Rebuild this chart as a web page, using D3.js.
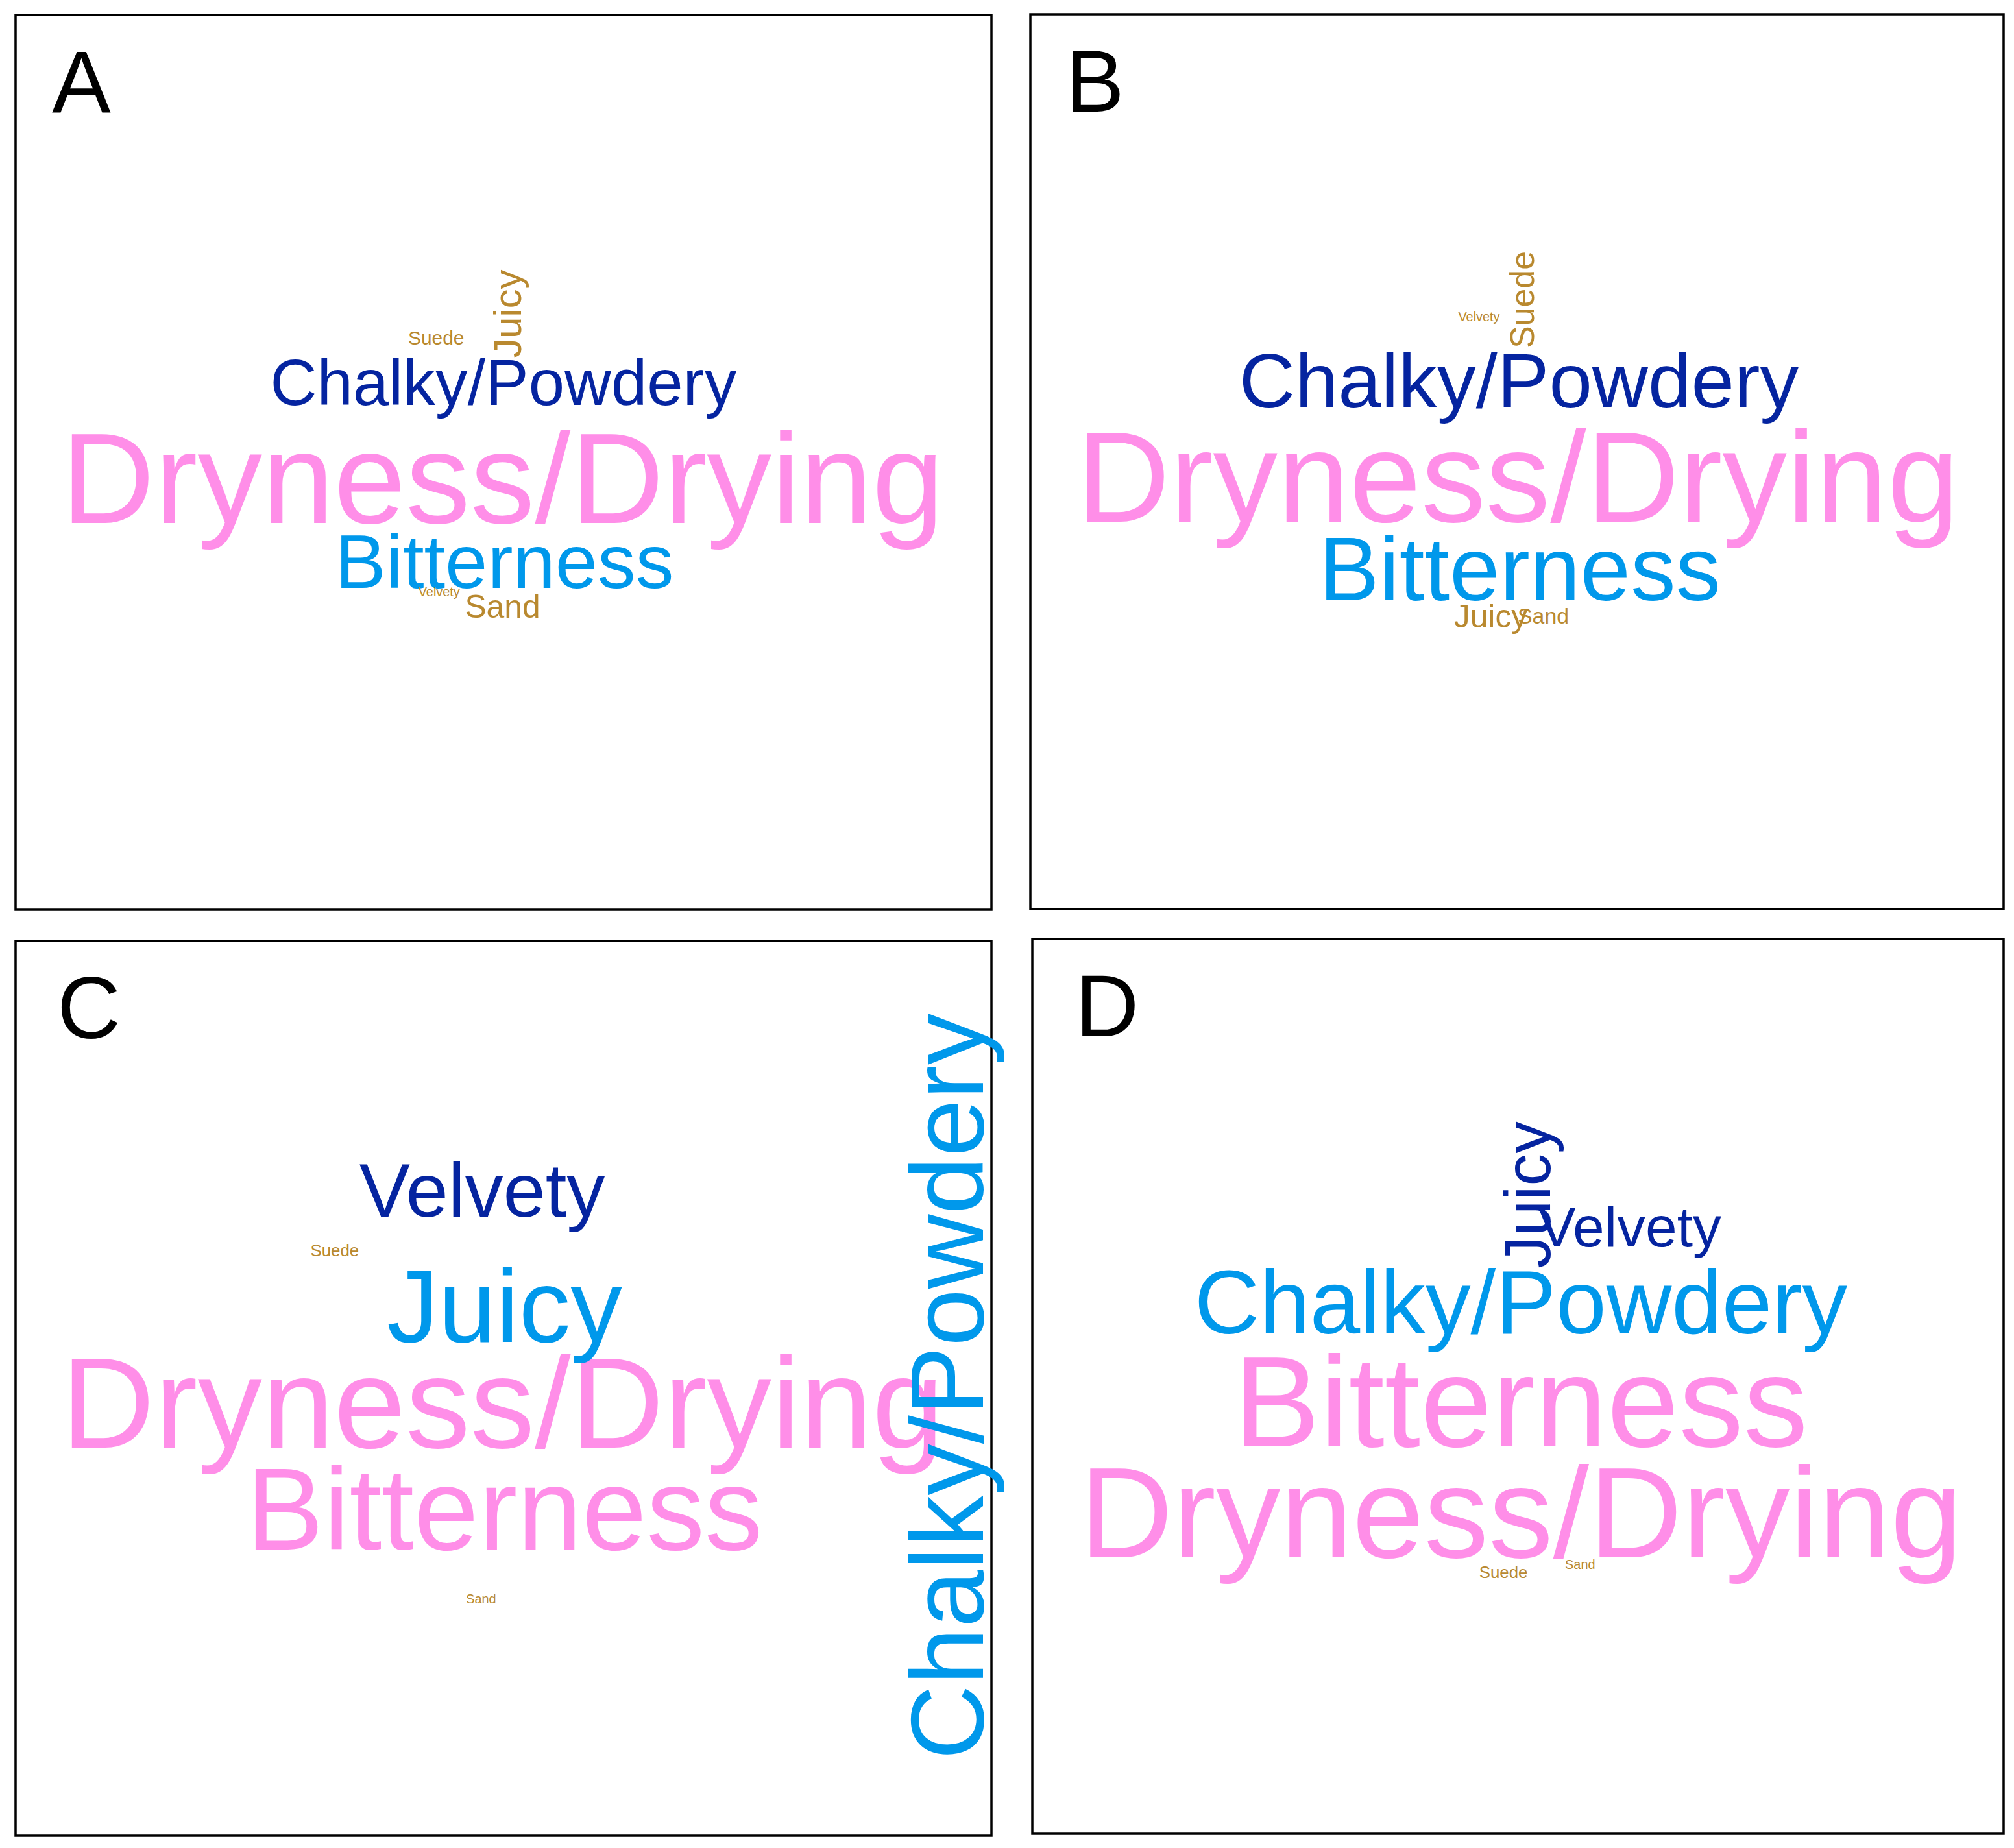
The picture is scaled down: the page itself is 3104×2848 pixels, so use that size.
<!DOCTYPE html>
<html>
<head>
<meta charset="utf-8">
<script src="https://cdn.jsdelivr.net/npm/d3@7"></script>
<style>
  html, body { margin: 0; padding: 0; background: #fff; }
</style>
</head>
<body>
<div id="chart"></div>
<script>
// words in every cloud
const words = ["Dryness/Drying", "Bitterness", "Chalky/Powdery", "Juicy", "Velvety", "Suede", "Sand"];
const panelNames = ["A", "B", "C", "D"];

// relative frequency (most cited word = 100), same order as words
const freqA = [100, 59, 50, 30, 10, 15, 25];
const freqB = [100, 70, 60, 25, 10, 26, 17];
const freqC = [100, 90, 80, 80, 59, 13, 10];
const freqD = [100, 100, 70, 50, 44, 13, 10];

// colour tier of each word (1 lowest .. 4 highest)
const tierA = [4, 3, 2, 1, 1, 1, 1];
const tierB = [4, 3, 2, 1, 1, 1, 1];
const tierC = [4, 4, 3, 3, 2, 1, 1];
const tierD = [4, 4, 3, 2, 2, 1, 1];

// cloud layout result: word centre in unit coords of the panel (0..1), and rotation flag
const layoutXA = [0.499, 0.501, 0.500, 0.504, 0.434, 0.431, 0.499];
const layoutYA = [0.518, 0.611, 0.411, 0.334, 0.645, 0.361, 0.661];
const rotA     = [0, 0, 0, 1, 0, 0, 0];

const layoutXB = [0.501, 0.503, 0.502, 0.473, 0.461, 0.505, 0.527];
const layoutYB = [0.517, 0.620, 0.409, 0.673, 0.338, 0.319, 0.672];
const rotB     = [0, 0, 0, 0, 0, 1, 0];

const layoutXC = [0.499, 0.501, 0.955, 0.501, 0.478, 0.327, 0.477];
const layoutYC = [0.516, 0.635, 0.498, 0.408, 0.279, 0.346, 0.735];
const rotC     = [0, 0, 1, 0, 0, 0, 0];

const layoutXD = [0.503, 0.503, 0.503, 0.510, 0.615, 0.485, 0.564];
const layoutYD = [0.641, 0.517, 0.406, 0.286, 0.322, 0.708, 0.699];
const rotD     = [0, 0, 0, 1, 0, 0, 0];

const freqs = [freqA, freqB, freqC, freqD];
const tiers = [tierA, tierB, tierC, tierD];
const layX = [layoutXA, layoutXB, layoutXC, layoutXD];
const layY = [layoutYA, layoutYB, layoutYC, layoutYD];
const rots = [rotA, rotB, rotC, rotD];

const W = 3104, H = 2848;
const font = "'Liberation Sans', Arial, Helvetica, sans-serif";

const svg = d3.select("#chart").append("svg")
  .attr("width", W)
  .attr("height", H)
  .style("background", "#fff");

// panel boxes (2 x 2)
const boxLeft = [24, 1588, 24, 1591];
const boxTop = [23, 22, 1450, 1447];
const boxW = [1504, 1500, 1504, 1497];
const boxH = 1379;
const labelDx = [56, 54, 64, 66];

// font size ~ frequency, colour by tier
var size = d3.scaleLinear().domain([0, 100]).range([0, 199]);
var color = d3.scaleOrdinal()
  .domain([1, 2, 3, 4])
  .range(["#B9892F", "#0524A0", "#0098EB", "#FF8EE8"]);

panelNames.forEach(function(name, p) {
  var x = d3.scaleLinear().domain([0, 1]).range([boxLeft[p], boxLeft[p] + boxW[p]]);
  var y = d3.scaleLinear().domain([0, 1]).range([boxTop[p], boxTop[p] + boxH]);

  var g = svg.append("g").attr("class", "panel-" + name);

  g.append("rect")
    .attr("x", x(0))
    .attr("y", y(0))
    .attr("width", x(1) - x(0))
    .attr("height", y(1) - y(0))
    .attr("fill", "none")
    .attr("stroke", "#000")
    .attr("stroke-width", 3.5);

  var data = words.map(function(w, i) {
    return { word: w, freq: freqs[p][i], tier: tiers[p][i], cx: layX[p][i], cy: layY[p][i], rot: rots[p][i] };
  });
  // biggest words first, like the cloud was built
  data.sort(function(a, b) { return b.freq - a.freq; });

  g.selectAll("text.word")
    .data(data)
    .enter().append("text")
    .attr("class", "word")
    .attr("transform", function(d) {
      return "translate(" + x(d.cx) + "," + y(d.cy) + ")" + (d.rot ? " rotate(-90)" : "");
    })
    .attr("text-anchor", "middle")
    .attr("dominant-baseline", "central")
    .attr("font-family", font)
    .attr("font-size", function(d) { return size(d.freq) + "px"; })
    .attr("fill", function(d) { return color(d.tier); })
    .text(function(d) { return d.word; });

  // panel letter
  g.append("text")
    .attr("x", boxLeft[p] + labelDx[p])
    .attr("y", boxTop[p] + 150)
    .attr("font-family", font)
    .attr("font-size", "136px")
    .attr("fill", "#000")
    .text(name);
});
</script>
</body>
</html>
